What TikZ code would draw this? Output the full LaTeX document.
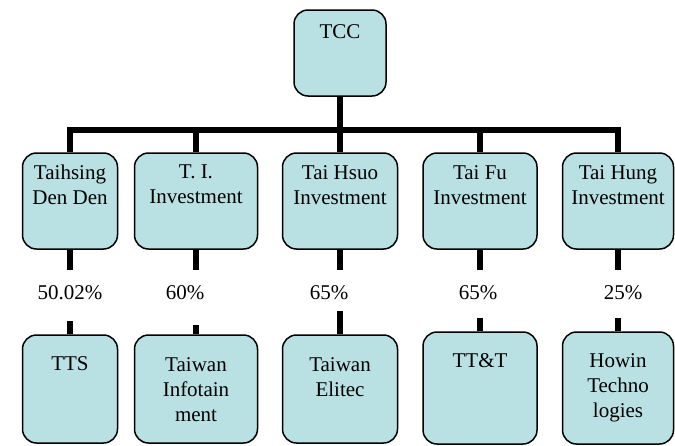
\documentclass[tikz,border=0pt]{standalone}
\usepackage{fontspec}
\setmainfont{Liberation Serif}
\newfontfamily\fonteserif{Liberation Serif}
\definecolor{azulcaixa}{RGB}{185,225,228}
\tikzset{
  caixa/.style={draw, line width=1.5pt, rounded corners=14pt, fill=azulcaixa, inner sep=0pt},
  texto/.style={anchor=north, align=center, inner sep=0pt},
  linha/.style={line width=6pt}
}
\begin{document}
\begin{tikzpicture}[x=1pt, y=-1pt, font=\fonteserif\fontsize{21}{25}\selectfont]
  \useasboundingbox (0,0) rectangle (675,445);
  % Topo
  \node[caixa, minimum width=92pt, minimum height=86pt] (tcc) at (340,53) {};
  \node[texto] (tcct) at (340,24) {TCC};
  % Caixas do meio
  \node[caixa, minimum width=95pt, minimum height=96pt] (b1) at (70,201) {};
  \node[caixa, minimum width=123pt, minimum height=96pt] (b2) at (196,201) {};
  \node[caixa, minimum width=115pt, minimum height=96pt] (b3) at (340,201) {};
  \node[caixa, minimum width=114pt, minimum height=96pt] (b4) at (480,201) {};
  \node[caixa, minimum width=111pt, minimum height=96pt] (b5) at (618,201) {};
  \node[texto] (b1t) at (70,165) {Taihsing\\Den Den};
  \node[texto] (b2t) at (196,165) {T. I.\\Investment};
  \node[texto] (b3t) at (340,165) {Tai Hsuo\\Investment};
  \node[texto] (b4t) at (480,165) {Tai Fu\\Investment};
  \node[texto] (b5t) at (618,165) {Tai Hung\\Investment};
  % Caixas de baixo
  \node[caixa, minimum width=95pt, minimum height=108pt] (c1) at (70,389) {};
  \node[caixa, minimum width=123pt, minimum height=108pt] (c2) at (196,389) {};
  \node[caixa, minimum width=115pt, minimum height=108pt] (c3) at (340,389) {};
  \node[caixa, minimum width=114pt, minimum height=112pt] (c4) at (480,388) {};
  \node[caixa, minimum width=111pt, minimum height=112pt] (c5) at (618,388) {};
  \node[texto] (c1t) at (70,356) {TTS};
  \node[texto] (c2t) at (196,357) {Taiwan\\Infotain\\ment};
  \node[texto] (c3t) at (340,357) {Taiwan\\Elitec};
  \node[texto] (c4t) at (480,353) {TT\&T};
  \node[texto] (c5t) at (618,353) {Howin\\Techno\\logies};
  % Percentagens
  \node[texto] (p1) at (70,285) {50.02\%};
  \node[texto] (p2) at (185,285) {60\%};
  \node[texto] (p3) at (329,285) {65\%};
  \node[texto] (p4) at (478,285) {65\%};
  \node[texto] (p5) at (623,285) {25\%};
  % Ligações
  \draw[linha] (tcc.south) -- ++(0,33) -| (b1.north);
  \draw[linha] (tcc.south) -- ++(0,33) -| (b2.north);
  \draw[linha] (tcc.south) -- (b3.north);
  \draw[linha] (tcc.south) -- ++(0,33) -| (b4.north);
  \draw[linha] (tcc.south) -- ++(0,33) -| (b5.north);
  \draw[linha] (b1.south) -- ++(0,20);
  \draw[linha] (b2.south) -- ++(0,20);
  \draw[linha] (b3.south) -- ++(0,20);
  \draw[linha] (b4.south) -- ++(0,20);
  \draw[linha] (b5.south) -- ++(0,20);
  \draw[linha] (c1.north) -- ++(0,-13);
  \draw[linha] (c2.north) -- ++(0,-9);
  \draw[linha] (c3.north) -- ++(0,-23);
  \draw[linha] (c4.north) -- ++(0,-13);
  \draw[linha] (c5.north) -- ++(0,-13);
\end{tikzpicture}
\end{document}
